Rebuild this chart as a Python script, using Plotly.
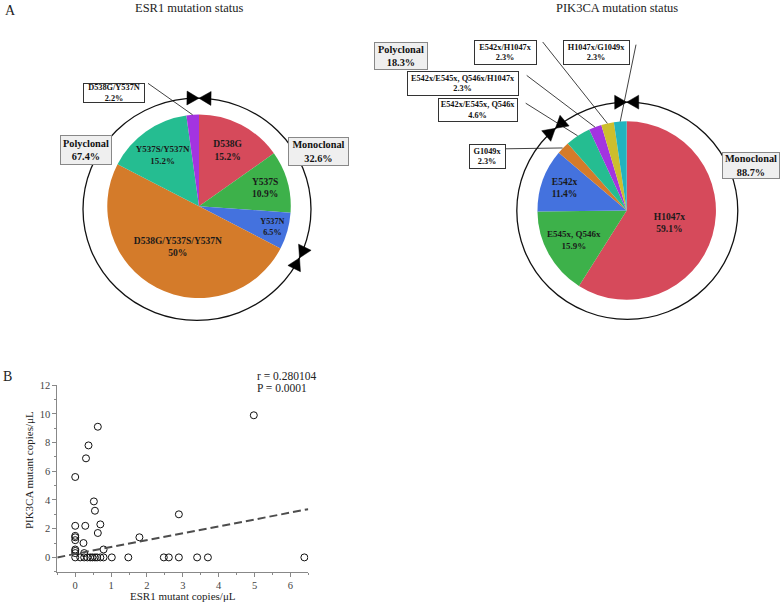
import numpy as np
import plotly.graph_objects as go

W, H = 781, 602
FONT = "Liberation Serif"

# ---------------- data ----------------
esr1_labels = ["D538G", "Y537S", "Y537N", "D538G/Y537S/Y537N", "Y537S/Y537N", "D538G/Y537N"]
esr1_values = [15.2, 10.9, 6.5, 50.0, 15.2, 2.2]
esr1_inside = [True, True, True, True, True, False]
esr1_mono = 32.6
esr1_poly = 67.4

pik_labels = ["H1047x", "E545x, Q546x", "E542x", "G1049x", "E542x/E545x, Q546x",
              "E542x/E545x, Q546x/H1047x", "E542x/H1047x", "H1047x/G1049x"]
pik_values = [59.1, 15.9, 11.4, 2.3, 4.6, 2.3, 2.3, 2.3]
pik_inside = [True, True, True, False, False, False, False, False]
pik_mono = 88.7
pik_poly = 18.3

esr1_copies = [0, 0, 0, 0, 0, 0, 0, 0, 0,
               0.30, 0.37, 0.63, 0.52, 0.55, 0.28, 0.70, 0.63, 0.23, 0.79, 0.25,
               1.79, 2.89, 4.98,
               0.14, 0.25, 0.34, 0.42, 0.48, 0.55, 0.61, 0.70, 0.79, 1.02, 1.48,
               2.47, 2.61, 2.89, 3.40, 3.70, 6.39]
pik_copies = [5.6, 2.2, 1.5, 1.4, 1.2, 0.55, 0.45, 0.3, 0,
              6.9, 7.8, 9.1, 3.9, 3.25, 2.2, 2.3, 1.7, 1.0, 0.55, 0.3,
              1.4, 3.0, 9.9,
              0, 0, 0, 0, 0, 0, 0, 0, 0, 0, 0,
              0, 0, 0, 0, 0, 0]
trend_intercept = 0.24
trend_slope = 0.48
r_value = "0.280104"
p_value = "0.0001"
x_range = [-0.5, 6.5]
y_range = [-1, 12]

# ---------------- styles / layout ----------------
esr1_colors = ["#D64A5B", "#3DB14A", "#4472DE", "#D47B2A", "#25BD91", "#A334E0"]
pik_colors = ["#D64A5B", "#3DB14A", "#4472DE", "#D47B2A", "#25BD91", "#A334E0", "#CDBE2D", "#22B4BE"]

L_C, L_R = (199.0, 203.0), 92.5          # left pie centre / radius (px)
R_C, R_R = (626.7, 207.3), 90.0          # right pie centre / radius (px)
L_ELL = ((197.0, 206.0), 114.0, 112.0)   # outer ring (centre, rx, ry)
R_ELL = ((627.3, 207.5), 110.5, 109.5)


def px(x, y):
    return x / W, 1 - y / H


def domain(c, r):
    return dict(x=[(c[0] - r) / W, (c[0] + r) / W], y=[1 - (c[1] + r) / H, 1 - (c[1] - r) / H])


def pie_text(labels, values, inside):
    return [f"<b>{l}<br>{v:g}%</b>" if i else "" for l, v, i in zip(labels, values, inside)]


fig = go.Figure()

for labels, values, inside, colors, c, r in [
    (esr1_labels, esr1_values, esr1_inside, esr1_colors, L_C, L_R),
    (pik_labels, pik_values, pik_inside, pik_colors, R_C, R_R),
]:
    fig.add_trace(go.Pie(
        labels=labels, values=values, text=pie_text(labels, values, inside),
        textinfo="text", textposition="inside", insidetextorientation="horizontal",
        sort=False, direction="clockwise", rotation=0,
        marker=dict(colors=colors, line=dict(width=0)),
        insidetextfont=dict(family=FONT, size=9.5, color="#1a1a1a"),
        domain=domain(c, r), showlegend=False, hoverinfo="label+percent",
    ))

# scatter
fig.add_trace(go.Scatter(
    x=esr1_copies, y=pik_copies, mode="markers",
    marker=dict(symbol="circle-open", size=7, color="#111", line=dict(width=1)),
    showlegend=False, xaxis="x", yaxis="y",
))
tx = np.array(x_range)
fig.add_trace(go.Scatter(
    x=tx, y=trend_intercept + trend_slope * tx, mode="lines",
    line=dict(color="#4d4d4d", width=2, dash="8px,4px"),
    showlegend=False, xaxis="x", yaxis="y",
))

shapes = []
annotations = []


def ray_ellipse(c, theta_deg, ell):
    (ex, ey), rx, ry = ell
    th = np.radians(theta_deg)
    d = np.array([np.sin(th), -np.cos(th)])
    o = np.array(c) - np.array([ex, ey])
    a = (d[0] / rx) ** 2 + (d[1] / ry) ** 2
    b = 2 * (o[0] * d[0] / rx ** 2 + o[1] * d[1] / ry ** 2)
    cc = (o[0] / rx) ** 2 + (o[1] / ry) ** 2 - 1
    s = (-b + np.sqrt(b * b - 4 * a * cc)) / (2 * a)
    p = np.array(c) + s * d
    g = np.array([(p[0] - ex) / rx ** 2, (p[1] - ey) / ry ** 2])
    n = g / np.linalg.norm(g)
    t = np.array([-n[1], n[0]])
    return p, t, n


def bowtie(p, t, n, L=12.0, w=7.0):
    segs = []
    for sgn in (-1, 1):
        base = p + sgn * L * t
        tri = [p, base + w * n, base - w * n]
        segs.append("M " + " L ".join(f"{q[0]/W:.5f},{1-q[1]/H:.5f}" for q in tri) + " Z")
    return " ".join(segs)


def ring(ell):
    (ex, ey), rx, ry = ell
    x0, y0 = px(ex - rx, ey + ry)
    x1, y1 = px(ex + rx, ey - ry)
    return dict(type="circle", xref="paper", yref="paper", x0=x0, y0=y0, x1=x1, y1=y1,
                line=dict(color="#111", width=1.3), layer="above")


for c, ell, mono in [(L_C, L_ELL, esr1_mono), (R_C, R_ELL, pik_mono)]:
    shapes.append(ring(ell))
    for frac in (0.0, mono):
        p, t, n = ray_ellipse(c, frac * 3.6, ell)
        shapes.append(dict(type="path", xref="paper", yref="paper", path=bowtie(p, t, n),
                           fillcolor="#000", line=dict(color="#000", width=0.5), layer="above"))


def slice_mid_point(values, idx, c, r):
    cum = sum(values[:idx]) + values[idx] / 2
    th = np.radians(cum / sum(values) * 360)
    return c[0] + r * np.sin(th), c[1] - r * np.cos(th)


# callout boxes: (pie, slice index, box centre, box size, line start)
callouts = [
    ("L", 5, (113.5, 89.0), (62, 20), (148.0, 79.0)),
    ("R", 6, (505.8, 48.3), (63, 25), (542.7, 37.3)),
    ("R", 7, (596.7, 47.5), (67, 25), (636.0, 40.0)),
    ("R", 5, (462.7, 79.5), (112, 25), (526.7, 71.0)),
    ("R", 4, (478.5, 106.3), (80, 24), (525.7, 99.0)),
    ("R", 3, (487.7, 152.5), (37, 25), (506.0, 145.0)),
]
for side, idx, (bx, by), (bw, bh), (sx, sy) in callouts:
    labels, values, c, r = (esr1_labels, esr1_values, L_C, L_R) if side == "L" else (pik_labels, pik_values, R_C, R_R)
    ex, ey = slice_mid_point(values, idx, c, r)
    x0, y0 = px(sx, sy)
    x1, y1 = px(ex, ey)
    shapes.append(dict(type="line", xref="paper", yref="paper", x0=x0, y0=y0, x1=x1, y1=y1,
                       line=dict(color="#111", width=0.8), layer="above"))
    ax, ay = px(bx, by)
    annotations.append(dict(
        x=ax, y=ay, xref="paper", yref="paper", showarrow=False,
        text=f"<b>{labels[idx]}<br>{values[idx]:g}%</b>",
        font=dict(family=FONT, size=8.3, color="#111"),
        bgcolor="#fff", bordercolor="#333", borderwidth=1, borderpad=0,
        width=bw - 2, height=bh - 2, xanchor="center", yanchor="middle", align="center",
    ))

# clonality boxes
for name, val, (bx, by), (bw, bh) in [
    ("Polyclonal", esr1_poly, (86.0, 146.0), (52, 30)),
    ("Monoclonal", esr1_mono, (318.0, 148.0), (61, 29)),
    ("Polyclonal", pik_poly, (400.8, 51.0), (54, 28)),
    ("Monoclonal", pik_mono, (750.5, 162.3), (58, 27)),
]:
    ax, ay = px(bx, by)
    annotations.append(dict(
        x=ax, y=ay, xref="paper", yref="paper", showarrow=False,
        text=f"<b>{name}<br>{val:g}%</b>",
        font=dict(family=FONT, size=10.3, color="#111"),
        bgcolor="#efefef", bordercolor="#888", borderwidth=1, borderpad=0,
        width=bw - 2, height=bh - 2, xanchor="center", yanchor="middle", align="center",
    ))

# titles at the very top (anchored by their top edge, nudged upward)
for text, x, size, anchor, shift in [
    ("ESR1 mutation status", 189, 12.5, "center", 6),
    ("PIK3CA mutation status", 617, 12.5, "center", 6),
    ("A", 3, 14, "left", 4),
]:
    annotations.append(dict(x=x / W, y=1.0, xref="paper", yref="paper", showarrow=False, text=text,
                            font=dict(family=FONT, size=size, color="#222"),
                            xanchor=anchor, yanchor="top", yshift=shift))

for text, (x, y), size, anchor in [
    ("B", (1, 375), 14, "left"),
    (f"r = {r_value}", (255, 374), 11.5, "left"),
    (f"P = {p_value}", (255, 386), 11.5, "left"),
    ("ESR1 mutant copies/μL", (183, 596), 11, "center"),
]:
    ax, ay = px(x, y)
    annotations.append(dict(x=ax, y=ay, xref="paper", yref="paper", showarrow=False, text=text,
                            font=dict(family=FONT, size=size, color="#222"),
                            xanchor=anchor, yanchor="middle"))
ax, ay = px(29, 469)
annotations.append(dict(x=ax, y=ay, xref="paper", yref="paper", showarrow=False,
                        text="PIK3CA mutant copies/μL", textangle=-90,
                        font=dict(family=FONT, size=11, color="#222"),
                        xanchor="center", yanchor="middle"))

axis_common = dict(showline=True, linecolor="#888", linewidth=1, ticks="outside", ticklen=4,
                   tickcolor="#888", showgrid=False, zeroline=False,
                   tickfont=dict(family=FONT, size=10.5, color="#444"))
fig.update_layout(
    width=W, height=H, margin=dict(l=0, r=0, t=0, b=0),
    paper_bgcolor="white", plot_bgcolor="white",
    xaxis=dict(domain=[57.3 / W, 308.3 / W], range=x_range, dtick=1, tick0=0,
               minor=dict(dtick=0.5, ticks="outside", ticklen=2, tickcolor="#888"),
               anchor="y", **axis_common),
    yaxis=dict(domain=[1 - 571.5 / H, 1 - 383.3 / H], range=y_range, dtick=2, tick0=0,
               minor=dict(dtick=1, ticks="outside", ticklen=2, tickcolor="#888"),
               anchor="x", **axis_common),
    shapes=shapes, annotations=annotations,
)

fig.write_html("out.html", config={"displayModeBar": False},
               post_script="document.body.style.margin='0';document.body.style.padding='0';"
                           "document.body.style.overflow='hidden';")
